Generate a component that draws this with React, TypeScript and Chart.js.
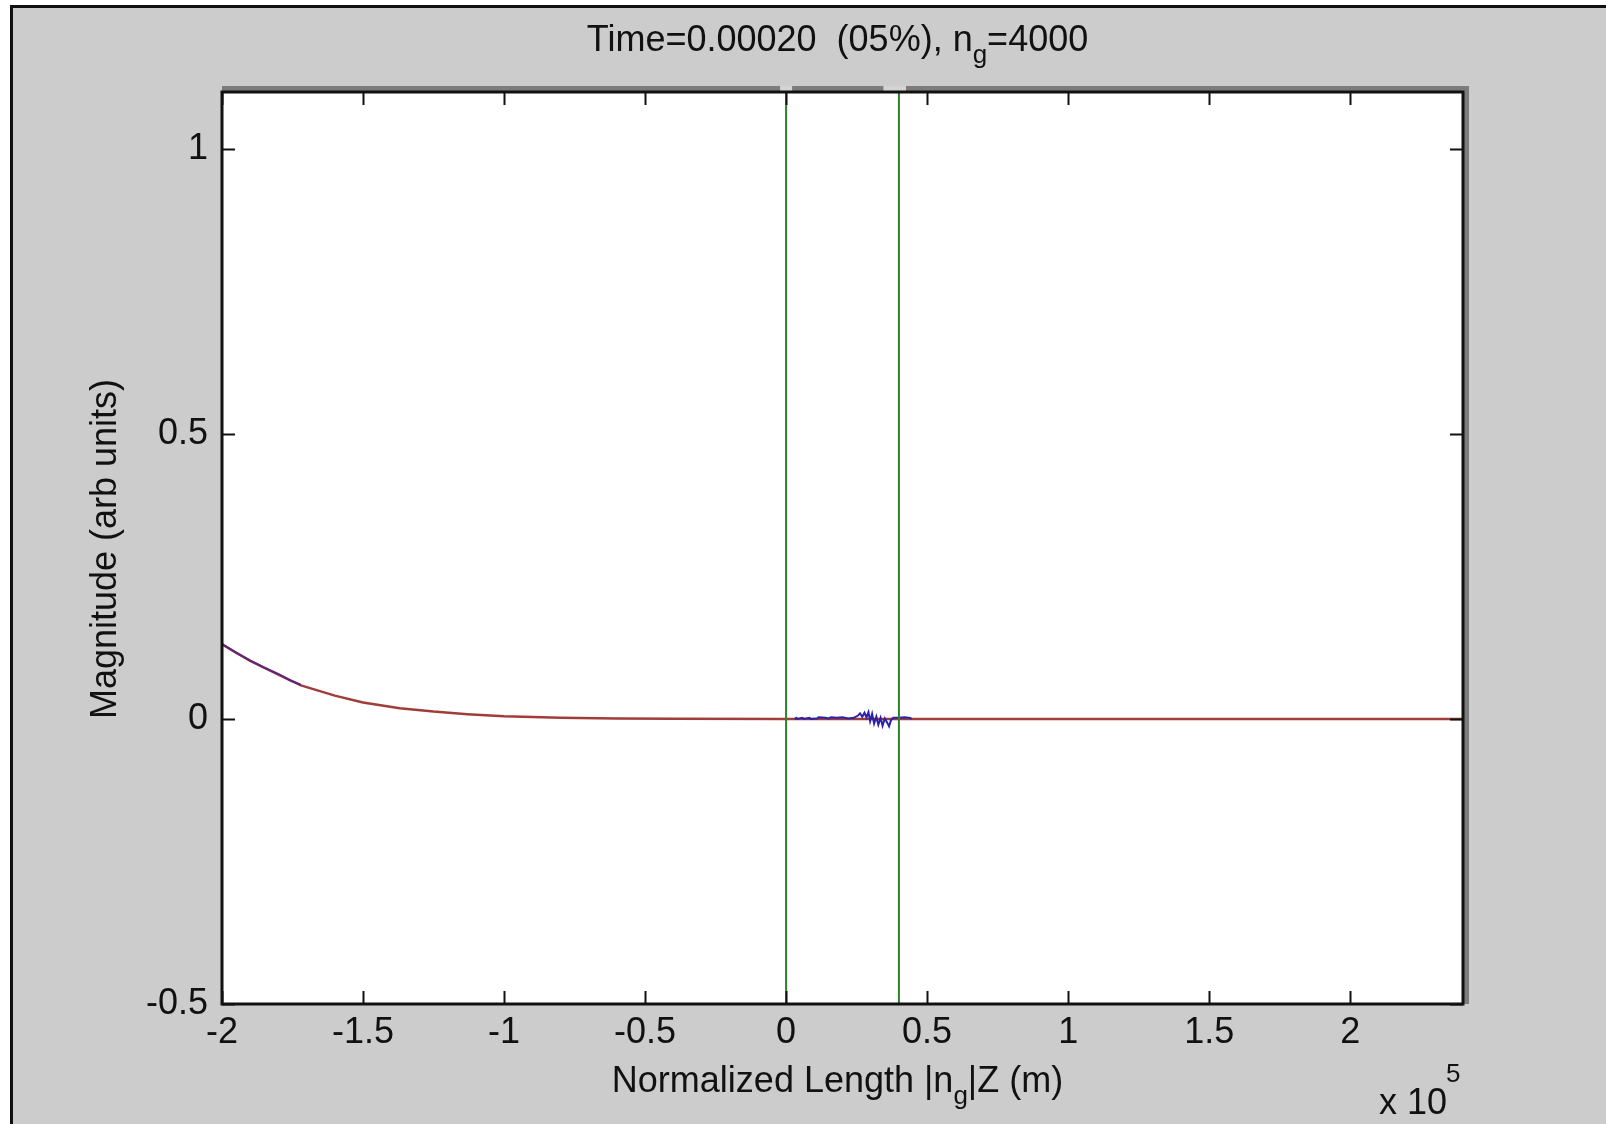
import { useEffect, useRef } from 'react';
import { Chart, registerables } from 'chart.js';

Chart.register(...registerables);

// ---- data (x in units of 1e5 m) ----
const X_FACTOR = 1e5;
const X_RANGE = [-2, 2.4];
const Y_RANGE = [-0.5, 1.1];
const X_TICKS = [-2, -1.5, -1, -0.5, 0, 0.5, 1, 1.5, 2];
const Y_TICKS = [-0.5, 0, 0.5, 1];

const redX = [-2.0, -1.9, -1.8, -1.72, -1.6, -1.5, -1.37, -1.25, -1.13, -1.0, -0.8, -0.6, -0.4, 0, 2.4];
const redY = [0.131, 0.102, 0.078, 0.059, 0.041, 0.029, 0.019, 0.013, 0.0085, 0.005, 0.002, 0.0008, 0.0003, 0, 0];

const blueStartX = [-2.0, -1.95, -1.9, -1.85, -1.8, -1.76, -1.72];
const blueStartY = [0.132, 0.116, 0.103, 0.09, 0.079, 0.068, 0.06];

const blueNoiseX = [0.03, 0.036, 0.04, 0.058, 0.062, 0.083, 0.087, 0.11, 0.115, 0.14, 0.15, 0.16, 0.18, 0.2, 0.22, 0.24, 0.255, 0.262, 0.27, 0.278, 0.285, 0.292, 0.298, 0.305, 0.312, 0.32, 0.327, 0.335, 0.342, 0.35, 0.358, 0.365, 0.372, 0.38, 0.4, 0.42, 0.44, 0.445];
const blueNoiseY = [0, 0.002, 0, 0.002, 0, 0.002, 0, 0.001, 0.003, 0.002, 0.001, 0.003, 0.002, 0.003, 0.001, 0.002, 0.006, 0.01, 0.004, 0.011, 0.003, 0.012, -0.004, 0.009, -0.008, 0.004, -0.01, 0.002, -0.012, 0.001, -0.006, -0.013, -0.002, 0.002, 0.002, 0.003, 0.002, 0];

const markerX = [0, 0.4];

const FONT = '"Liberation Sans", Arial, Helvetica, sans-serif';
const TEXT = '#111111';

const pts = (xs: number[], ys: number[]) => xs.map((x, i) => ({ x: x * X_FACTOR, y: ys[i] }));

const decorPlugin = {
  id: 'matlabDecor',
  beforeDraw(chart: any) {
    const { ctx, width, height, chartArea: a } = chart;
    ctx.save();
    ctx.fillStyle = '#ffffff';
    ctx.fillRect(0, 0, width, height);
    ctx.fillStyle = '#cccccc';
    ctx.fillRect(10, 5, width - 10, height - 5);
    ctx.fillStyle = '#111111';
    ctx.fillRect(10, 5, 3, height - 5);
    ctx.fillRect(10, 5, width - 10, 3);
    // shadow bands
    ctx.fillStyle = '#7c7c7c';
    ctx.fillRect(a.left, a.top - 6, a.right - a.left + 6, 6);
    ctx.fillRect(a.right, a.top - 6, 6, a.bottom - a.top + 6);
    const xs = chart.scales.x;
    ctx.fillStyle = '#d4d4d4';
    const g0 = xs.getPixelForValue(0);
    ctx.fillRect(g0 - 6, a.top - 6, 12, 6);
    const g1a = xs.getPixelForValue(0.345 * X_FACTOR);
    const g1b = xs.getPixelForValue(0.425 * X_FACTOR);
    ctx.fillRect(g1a, a.top - 6, g1b - g1a, 6);
    ctx.fillStyle = '#ffffff';
    ctx.fillRect(a.left, a.top, a.right - a.left, a.bottom - a.top);
    ctx.restore();
  },
  afterDatasetsDraw(chart: any) {
    const { ctx, chartArea: a } = chart;
    const xs = chart.scales.x;
    const ys = chart.scales.y;
    ctx.save();
    ctx.strokeStyle = '#111111';
    ctx.lineWidth = 2;
    const T = 13;
    ctx.beginPath();
    X_TICKS.forEach((v) => {
      const p = Math.round(xs.getPixelForValue(v * X_FACTOR)) + 0.5;
      ctx.moveTo(p, a.bottom);
      ctx.lineTo(p, a.bottom - T);
      ctx.moveTo(p, a.top);
      ctx.lineTo(p, a.top + T);
    });
    Y_TICKS.forEach((v) => {
      const p = Math.round(ys.getPixelForValue(v)) + 0.5;
      ctx.moveTo(a.left, p);
      ctx.lineTo(a.left + T, p);
      ctx.moveTo(a.right, p);
      ctx.lineTo(a.right - T, p);
    });
    ctx.stroke();
    ctx.lineWidth = 3;
    ctx.strokeRect(a.left, a.top, a.right - a.left, a.bottom - a.top);
    ctx.restore();
  },
  afterDraw(chart: any) {
    const { ctx, chartArea: a } = chart;
    const big = `36px ${FONT}`;
    const small = `26px ${FONT}`;
    ctx.save();
    ctx.fillStyle = TEXT;
    ctx.textBaseline = 'alphabetic';
    ctx.textAlign = 'left';

    const drawSub = (parts: { t: string; sub?: boolean }[], cx: number, base: number) => {
      let total = 0;
      parts.forEach((p) => {
        ctx.font = p.sub ? small : big;
        total += ctx.measureText(p.t).width;
      });
      let x = cx - total / 2;
      parts.forEach((p) => {
        ctx.font = p.sub ? small : big;
        ctx.fillText(p.t, x, p.sub ? base + 12 : base);
        x += ctx.measureText(p.t).width;
      });
    };

    const cx = (a.left + a.right) / 2 - 5;
    drawSub([{ t: 'Time=0.00020  (05%), n' }, { t: 'g', sub: true }, { t: '=4000' }], cx, 51);
    drawSub([{ t: 'Normalized Length |n' }, { t: 'g', sub: true }, { t: '|Z (m)' }], cx, 1092);

    // exponent label
    ctx.font = big;
    ctx.fillText('x 10', 1379, 1114);
    ctx.font = small;
    ctx.fillText('5', 1446, 1082);

    // y axis title
    ctx.font = big;
    ctx.translate(116, 549);
    ctx.rotate(-Math.PI / 2);
    ctx.textAlign = 'center';
    ctx.fillText('Magnitude (arb units)', 0, 0);
    ctx.restore();
  },
};

export default function App() {
  const ref = useRef<HTMLCanvasElement>(null);
  useEffect(() => {
    if (!ref.current) return;
    const chart = new Chart(ref.current, {
      type: 'line',
      data: {
        datasets: [
          {
            label: 'Marker 1',
            data: [{ x: markerX[0] * X_FACTOR, y: Y_RANGE[0] }, { x: markerX[0] * X_FACTOR, y: Y_RANGE[1] }],
            borderColor: '#2f7f2f',
            borderWidth: 2,
            pointRadius: 0,
            order: 1,
          },
          {
            label: 'Marker 2',
            data: [{ x: markerX[1] * X_FACTOR, y: Y_RANGE[0] }, { x: markerX[1] * X_FACTOR, y: Y_RANGE[1] }],
            borderColor: '#2f7f2f',
            borderWidth: 2,
            pointRadius: 0,
            order: 1,
          },
          {
            label: 'Blue noise',
            data: pts(blueNoiseX, blueNoiseY),
            borderColor: '#2a22a8',
            borderWidth: 2,
            pointRadius: 0,
            tension: 0,
            order: 2,
          },
          {
            label: 'Blue start',
            data: pts(blueStartX, blueStartY),
            borderColor: 'rgba(60,30,150,0.7)',
            borderWidth: 2,
            pointRadius: 0,
            tension: 0,
            order: 3,
          },
          {
            label: 'Red',
            data: pts(redX, redY),
            borderColor: '#a03c3a',
            borderWidth: 2.5,
            pointRadius: 0,
            tension: 0,
            order: 4,
          },
        ],
      },
      options: {
        responsive: false,
        animation: false,
        events: [],
        layout: { padding: { top: 92, right: 143, bottom: 0, left: 0 } },
        plugins: { legend: { display: false }, title: { display: false }, tooltip: { enabled: false } },
        scales: {
          x: {
            type: 'linear',
            min: X_RANGE[0] * X_FACTOR,
            max: X_RANGE[1] * X_FACTOR,
            grid: { display: false, drawTicks: false },
            border: { display: false },
            afterBuildTicks: (s: any) => {
              s.ticks = X_TICKS.map((v) => ({ value: v * X_FACTOR }));
            },
            afterFit: (s: any) => {
              s.height = 120;
            },
            ticks: {
              autoSkip: false,
              maxRotation: 0,
              padding: 7,
              color: TEXT,
              font: { family: FONT, size: 36 },
              callback: (v: any) => String(Math.round((Number(v) / X_FACTOR) * 10) / 10),
            },
          },
          y: {
            type: 'linear',
            min: Y_RANGE[0],
            max: Y_RANGE[1],
            grid: { display: false, drawTicks: false },
            border: { display: false },
            afterBuildTicks: (s: any) => {
              s.ticks = Y_TICKS.map((v) => ({ value: v }));
            },
            afterFit: (s: any) => {
              s.width = 222;
            },
            ticks: {
              autoSkip: false,
              padding: 14,
              color: TEXT,
              font: { family: FONT, size: 36 },
              callback: (v: any) => String(v),
            },
          },
        },
      },
      plugins: [decorPlugin],
    });
    return () => chart.destroy();
  }, []);

  return (
    <div style={{ position: 'fixed', left: 0, top: 0, width: 1606, height: 1124 }}>
      <canvas ref={ref} width={1606} height={1124} style={{ width: 1606, height: 1124, display: 'block' }} />
    </div>
  );
}
